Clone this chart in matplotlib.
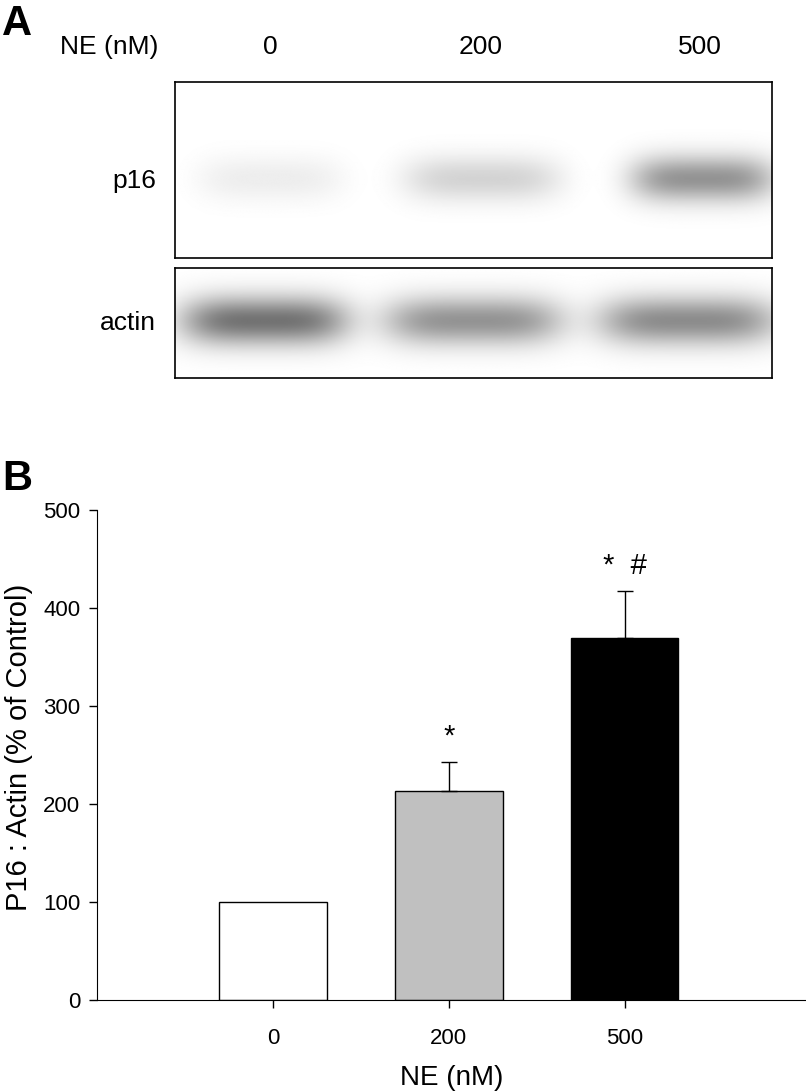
import matplotlib.pyplot as plt
import numpy as np

# data
lanes = ['0', '200', '500']
ratio = [100, 213, 369]
ratio_err = [0, 30, 48]
marks = ['', '*', '*  #']
bar_colors = ['white', '#c0c0c0', 'black']

# band darkness (0 = white, 1 = black)
p16_density = [0.07, 0.17, 0.42]
actin_density = [0.55, 0.42, 0.45]

NARROW = ['Liberation Sans Narrow', 'Liberation Sans', 'DejaVu Sans']
REG = ['Liberation Sans', 'DejaVu Sans']

W, H = 806, 1092
fig = plt.figure(figsize=(W / 100, H / 100), dpi=100)


def fig_rect(x0, y0, x1, y1):
    return [x0 / W, 1 - y1 / H, (x1 - x0) / W, (y1 - y0) / H]


def blot(ax, density, centers, half_w, cy, half_h):
    # draw a smeared band per lane
    xs = np.linspace(0, 1, 600)
    ys = np.linspace(0, 1, 200)
    X, Y = np.meshgrid(xs, ys)
    img = np.zeros_like(X)
    for d, cx, hw in zip(density, centers, half_w):
        img += d * np.exp(-((X - cx) / hw) ** 4) * np.exp(-((Y - cy) / half_h) ** 2)
    ax.imshow(1 - np.clip(img, 0, 1), cmap='gray', vmin=0, vmax=1,
              extent=[0, 1, 1, 0], aspect='auto', interpolation='bilinear')
    ax.set_xticks([])
    ax.set_yticks([])
    for s in ax.spines.values():
        s.set_linewidth(1.2)


# panel A
ax_p16 = fig.add_axes(fig_rect(175, 82, 772, 258))
blot(ax_p16, p16_density, [0.16, 0.515, 0.885], [0.12, 0.13, 0.12], 0.55, 0.13)
ax_act = fig.add_axes(fig_rect(175, 268, 772, 378))
blot(ax_act, actin_density, [0.15, 0.5, 0.86], [0.14, 0.15, 0.15], 0.48, 0.22)

fig.text(2 / W, 1 - 24 / H, 'A', fontsize=30, fontweight='bold', family=REG, va='center')
fig.text(158 / W, 1 - 47 / H, 'NE (nM)', fontsize=19, family=NARROW, ha='right', va='center')
for lab, x in zip(lanes, [270, 481, 700]):
    fig.text(x / W, 1 - 47 / H, lab, fontsize=19, family=NARROW, ha='center', va='center')
fig.text(156 / W, 1 - 181 / H, 'p16', fontsize=19, family=NARROW, ha='right', va='center')
fig.text(156 / W, 1 - 323 / H, 'actin', fontsize=19, family=NARROW, ha='right', va='center')

# panel B
fig.text(2 / W, 1 - 479 / H, 'B', fontsize=30, fontweight='bold', family=REG, va='center')
ax = fig.add_axes(fig_rect(97, 510, 806, 1000))
pos = np.arange(1, len(lanes) + 1)
ax.bar(pos, ratio, width=0.61, color=bar_colors, edgecolor='black', linewidth=1.0)
ax.errorbar(pos[1:], ratio[1:], yerr=[[0] * 2, ratio_err[1:]], fmt='none',
            ecolor='black', elinewidth=1.0, capsize=6, capthick=1.0)
for p, v, e, m in zip(pos, ratio, ratio_err, marks):
    if m:
        ax.text(p, v + e + 12, m, ha='center', va='bottom', fontsize=21, family=REG)
ax.set_xlim(0, 4.03)
ax.set_ylim(0, 500)
ax.set_xticks(pos)
ax.set_xticklabels(lanes, family=NARROW, fontsize=16)
ax.set_yticks(range(0, 501, 100))
ax.set_yticklabels([str(v) for v in range(0, 501, 100)], family=REG, fontsize=16)
ax.tick_params(direction='out', length=6, width=1.0, pad=6)
ax.tick_params(axis='x', pad=14)
ax.spines['top'].set_visible(False)
ax.spines['right'].set_visible(False)
ax.set_ylabel('P16 : Actin (% of Control)', family=REG, fontsize=21)
ax.yaxis.set_label_coords((33 - 97) / 709, 0.516)
ax.set_xlabel('NE (nM)', family=NARROW, fontsize=20, labelpad=12)

fig.savefig('out.png', dpi=100)
